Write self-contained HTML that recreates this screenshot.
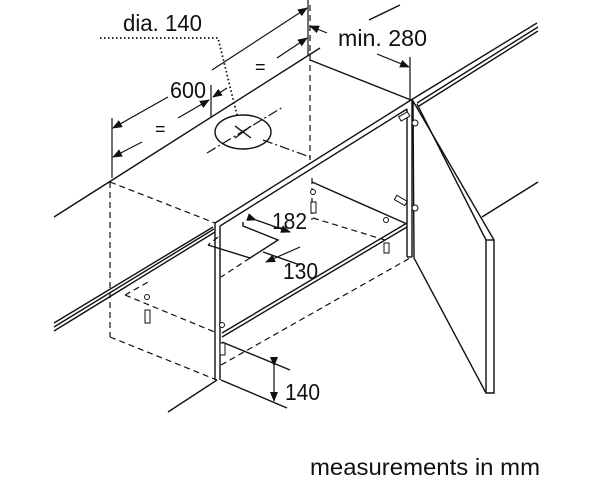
<!DOCTYPE html>
<html><head><meta charset="utf-8"><style>
html,body{margin:0;padding:0;background:#fff;}
svg{display:block}
text{font-family:"Liberation Sans",sans-serif;fill:#111}
</style></head><body>
<svg width="600" height="497" viewBox="0 0 600 497" xmlns="http://www.w3.org/2000/svg">
<defs><marker id="a" markerWidth="10" markerHeight="8" refX="9" refY="4" orient="auto" markerUnits="userSpaceOnUse"><path d="M0,0 L10,4 L0,8 z" fill="#111"/></marker></defs>
<g stroke="#111" stroke-width="1.4" fill="none">
<line x1="54" y1="217" x2="320" y2="48"/>
<line x1="369" y1="20" x2="400" y2="5"/>
<line x1="482" y1="217" x2="538" y2="182"/>
<line x1="54" y1="323" x2="213" y2="227"/>
<line x1="54" y1="327" x2="214" y2="229"/>
<line x1="54" y1="331" x2="215" y2="232"/>
<line x1="411" y1="100" x2="537" y2="23"/>
<line x1="417" y1="103" x2="538" y2="27"/>
<line x1="419" y1="106" x2="538" y2="31"/>
<line x1="310" y1="60" x2="411" y2="100"/>
<line x1="411" y1="100" x2="215" y2="223"/>
<line x1="407" y1="109" x2="220" y2="226"/>
<line x1="215" y1="223" x2="215" y2="380"/>
<line x1="220" y1="226" x2="220" y2="380"/>
<line x1="412" y1="100" x2="412" y2="257"/>
<line x1="407" y1="109" x2="407" y2="257"/>
<line x1="407" y1="257" x2="412" y2="257"/>
<line x1="222" y1="337" x2="407" y2="227"/>
<line x1="222" y1="333" x2="407" y2="223"/>
<line x1="312" y1="182" x2="407" y2="224"/>
<polyline points="208,245 250,258 278,240 243,226 243,222"/>
<line x1="263" y1="252" x2="300" y2="265"/>
<polygon points="413,101 494,240 494,393 486,393 414,258"/>
<line x1="417" y1="104" x2="486" y2="240"/>
<line x1="486" y1="240" x2="494" y2="240"/>
<line x1="486" y1="240" x2="486" y2="393"/>
<line x1="168" y1="412" x2="217" y2="380"/>
<line x1="221" y1="380" x2="287" y2="408"/>
<line x1="222" y1="342" x2="290" y2="370"/>
<ellipse cx="243" cy="132" rx="28" ry="17"/>
<line x1="235" y1="126" x2="251" y2="138"/><line x1="251" y1="126" x2="235" y2="138"/>
</g>
<g stroke="#111" stroke-width="1.2" fill="none" stroke-dasharray="6,4">
<line x1="110" y1="182" x2="110" y2="337"/>
<line x1="310" y1="5" x2="310" y2="160"/>
<line x1="312" y1="178" x2="312" y2="220"/>
<line x1="110" y1="182" x2="215" y2="223"/>
<line x1="110" y1="337" x2="217" y2="380"/>
<line x1="221" y1="365" x2="410" y2="258"/>
<line x1="125" y1="295" x2="217" y2="333"/>
<line x1="125" y1="295" x2="150" y2="281"/>
<line x1="313" y1="218" x2="385" y2="240"/>
<line x1="250" y1="258" x2="221" y2="277"/>
<line x1="218" y1="237" x2="208" y2="245"/>
</g>
<g stroke="#111" stroke-width="1.2" fill="none" stroke-dasharray="10,3,2,3">
<line x1="207" y1="153" x2="283" y2="107"/>
<line x1="263" y1="140" x2="310" y2="157"/>
</g>
<polyline points="100,38 218,38 237,115" stroke="#111" stroke-width="1.8" stroke-dasharray="1.5,2.5" fill="none"/>
<g stroke="#111" stroke-width="1.2" fill="none">
<line x1="112" y1="118" x2="112" y2="178"/>
<line x1="211" y1="85" x2="211" y2="117"/>
<line x1="308" y1="0" x2="308" y2="55"/>
<line x1="410" y1="57" x2="410" y2="100"/>
<line x1="168" y1="97" x2="113" y2="128" marker-end="url(#a)"/>
<line x1="212" y1="70" x2="307" y2="8" marker-end="url(#a)"/>
<line x1="142" y1="142" x2="113" y2="157" marker-end="url(#a)"/>
<line x1="178" y1="118" x2="209" y2="100" marker-end="url(#a)"/>
<line x1="227" y1="88" x2="213" y2="97" marker-end="url(#a)"/>
<line x1="277" y1="58" x2="307" y2="38" marker-end="url(#a)"/>
<line x1="327" y1="33" x2="310" y2="26" marker-end="url(#a)"/>
<line x1="377" y1="54" x2="409" y2="67" marker-end="url(#a)"/>
<line x1="256" y1="220" x2="290" y2="232" marker-start="url(#a)" marker-end="url(#a)"/>
<line x1="300" y1="247" x2="266" y2="262" marker-end="url(#a)"/>
<line x1="274" y1="366" x2="274" y2="401" marker-start="url(#a)" marker-end="url(#a)"/>
</g>
<g fill="#fff" stroke="#111" stroke-width="1">
<circle cx="313" cy="192" r="2.5"/><rect x="311" y="202" width="5" height="11"/>
<circle cx="386" cy="220" r="2.5"/><rect x="384" y="243" width="5" height="10"/>
<circle cx="147" cy="297" r="2.5"/><rect x="145" y="310" width="5" height="13"/>
<circle cx="222" cy="325" r="2.5"/><rect x="220" y="343" width="5" height="12"/>
<circle cx="415" cy="123" r="3"/><circle cx="415" cy="208" r="3"/>
<rect x="399" y="114" width="10" height="5" transform="rotate(-30 404 116)"/>
<rect x="395" y="198" width="12" height="5" transform="rotate(30 401 200)"/>
</g>
<g font-size="23">
<text x="123" y="31" textLength="79" lengthAdjust="spacingAndGlyphs">dia. 140</text>
<text x="338" y="46" textLength="89" lengthAdjust="spacingAndGlyphs">min. 280</text>
<text x="170" y="98" textLength="36" lengthAdjust="spacingAndGlyphs">600</text>
<text x="272" y="229" textLength="35" lengthAdjust="spacingAndGlyphs">182</text>
<text x="283" y="279" textLength="35" lengthAdjust="spacingAndGlyphs">130</text>
<text x="285" y="400" textLength="35" lengthAdjust="spacingAndGlyphs">140</text>
<text x="155" y="135" font-size="18">=</text>
<text x="255" y="73" font-size="18">=</text>
<text x="310" y="475" textLength="230" lengthAdjust="spacingAndGlyphs">measurements in mm</text>
</g>
</svg>
</body></html>
